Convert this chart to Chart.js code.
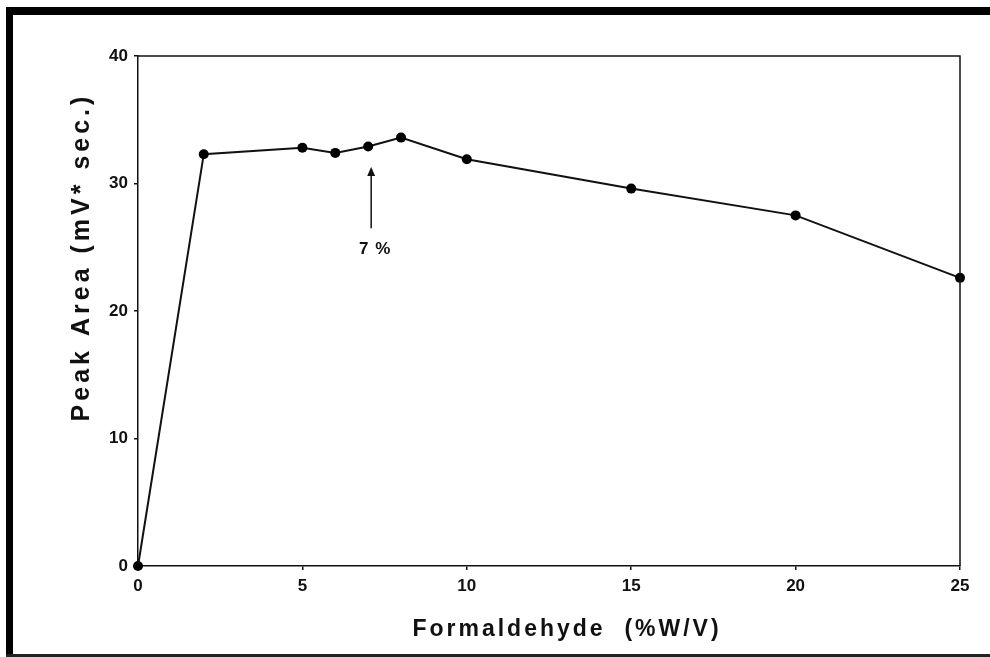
<!DOCTYPE html>
<html>
<head>
<meta charset="utf-8">
<script src="https://cdn.jsdelivr.net/npm/chart.js@4/dist/chart.umd.min.js"></script>
<style>
    html, body { margin: 0; padding: 0; background: #fff; }
    #wrap { width: 990px; height: 657px; position: relative; }
</style>
</head>
<body>
<div id="wrap"><canvas id="graphique"></canvas></div>
<script>
// valeurs
let formaldehyde = [0, 2, 5, 6, 7, 8, 10, 15, 20, 25]
let peakArea     = [0, 32.3, 32.8, 32.4, 32.9, 33.6, 31.9, 29.6, 27.5, 22.6]

let xTicks = [0, 5, 10, 15, 20, 25]
let yTicks = [0, 10, 20, 30, 40]

let xTitre = "Formaldehyde  (%W/V)"
let yTitre = "Peak Area (mV* sec.)"
let note   = "7 %"
let noteX  = 7

let police = "'Liberation Sans', Arial, sans-serif"

// cadre noir, titres d'axes, flèche du 7 %
let decor = {
    id: "decor",
    beforeDraw(chart) {
        let ctx = chart.ctx
        ctx.save()
        ctx.fillStyle = "#fff"
        ctx.fillRect(0, 0, chart.width, chart.height)
        ctx.fillStyle = "#000"
        ctx.fillRect(6, 7, chart.width - 6, 8)
        ctx.fillRect(6, 7, 7, chart.height - 7)
        ctx.fillStyle = "#222"
        ctx.fillRect(6, 654, chart.width - 6, 3)
        ctx.restore()
    },
    afterDraw(chart) {
        let ctx = chart.ctx
        let a = chart.chartArea
        let x = chart.scales.x
        let y = chart.scales.y
        ctx.save()
        ctx.strokeStyle = "#111"
        ctx.lineWidth = 1.5
        ctx.beginPath()
        ctx.moveTo(a.left, a.top)
        ctx.lineTo(a.right, a.top)
        ctx.lineTo(a.right, a.bottom)
        ctx.stroke()

        ctx.fillStyle = "#111"
        ctx.textAlign = "center"
        ctx.textBaseline = "middle"

        ctx.font = "bold 23px " + police
        ctx.letterSpacing = "3px"
        ctx.fillText(xTitre, 567, 630)

        ctx.save()
        ctx.translate(82, 257)
        ctx.rotate(-Math.PI / 2)
        ctx.font = "bold 25px " + police
        ctx.letterSpacing = "4px"
        ctx.fillText(yTitre, 0, 0)
        ctx.restore()

        // flèche
        let px = x.getPixelForValue(noteX) + 3
        let yBas = y.getPixelForValue(26.5)
        let yHaut = y.getPixelForValue(31.3)
        ctx.lineWidth = 1.5
        ctx.beginPath()
        ctx.moveTo(px, yBas)
        ctx.lineTo(px, yHaut + 6)
        ctx.stroke()
        ctx.beginPath()
        ctx.moveTo(px, yHaut)
        ctx.lineTo(px - 4, yHaut + 9)
        ctx.lineTo(px + 4, yHaut + 9)
        ctx.closePath()
        ctx.fill()

        ctx.font = "bold 17px " + police
        ctx.letterSpacing = "1px"
        ctx.fillText(note, px + 4, y.getPixelForValue(24.8))
        ctx.restore()
    }
}

new Chart(document.getElementById("graphique"), {
    type: "line",
    data: {
        datasets: [{
            data: formaldehyde.map((v, i) => ({ x: v, y: peakArea[i] })),
            borderColor: "#111",
            borderWidth: 2,
            backgroundColor: "#000",
            pointRadius: 5,
            pointHoverRadius: 5,
            pointBorderWidth: 0,
            tension: 0,
            clip: false
        }]
    },
    options: {
        responsive: true,
        maintainAspectRatio: false,
        animation: false,
        layout: { padding: { top: 56, right: 30, left: 0, bottom: 0 } },
        plugins: {
            legend: { display: false },
            tooltip: { enabled: false }
        },
        scales: {
            x: {
                type: "linear",
                min: 0,
                max: 25,
                afterBuildTicks: s => { s.ticks = xTicks.map(v => ({ value: v })) },
                afterFit: s => { s.height = 91 },
                grid: { drawOnChartArea: false, color: "#111", tickLength: 4, lineWidth: 1.5 },
                border: { color: "#111", width: 1.5 },
                ticks: {
                    color: "#111",
                    padding: 6,
                    font: { family: police, size: 17, weight: "bold" }
                }
            },
            y: {
                min: 0,
                max: 40,
                afterBuildTicks: s => { s.ticks = yTicks.map(v => ({ value: v })) },
                afterFit: s => { s.width = 138 },
                grid: { drawOnChartArea: false, color: "#111", tickLength: 4, lineWidth: 1.5 },
                border: { color: "#111", width: 1.5 },
                ticks: {
                    color: "#111",
                    padding: 6,
                    font: { family: police, size: 17, weight: "bold" }
                }
            }
        }
    },
    plugins: [decor]
})
</script>
</body>
</html>
